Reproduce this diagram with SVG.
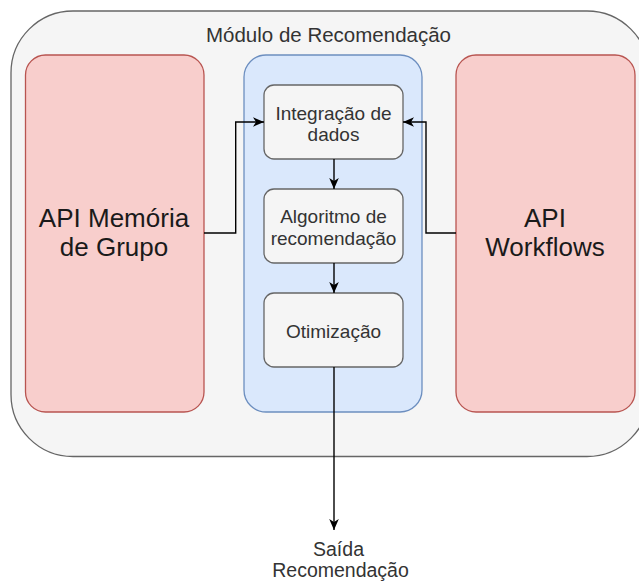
<svg xmlns="http://www.w3.org/2000/svg" width="639" height="584" viewBox="0 0 639 584">
  <defs>
    <marker id="arr" markerUnits="userSpaceOnUse" markerWidth="12" markerHeight="12" viewBox="0 0 12 12" refX="11" refY="6" orient="auto">
      <path d="M0,1.2 L11,6 L0,10.8 L3,6 Z" fill="#000"/>
    </marker>
    <style>
      text { font-family: "Liberation Sans", Arial, Helvetica, sans-serif; text-anchor: middle; }
      .outer { fill: #f5f5f5; stroke: #666666; stroke-width: 1.3; }
      .api { fill: #f8cecc; stroke: #b85450; stroke-width: 1.3; }
      .core { fill: #dae8fc; stroke: #6c8ebf; stroke-width: 1.3; }
      .step { fill: #f5f5f5; stroke: #666666; stroke-width: 1.3; }
      .title { font-size: 20.5px; fill: #333333; }
      .apit { font-size: 26px; fill: #1a1a1a; }
      .stept { font-size: 19px; fill: #333333; }
      .outt { font-size: 19.5px; fill: #333333; }
      .conn { fill: none; stroke: #000; stroke-width: 1.4; }
    </style>
  </defs>

  <g id="modulo-recomendacao">
    <rect class="outer" x="11" y="11" width="638" height="445.5" rx="62" ry="62"/>
    <text class="title" x="328.5" y="42">Módulo de Recomendação</text>
  </g>

  <g id="api-memoria-grupo">
    <rect class="api" x="25.5" y="55" width="178.5" height="357" rx="20" ry="20"/>
    <text class="apit" x="114" y="227">API Memória</text>
    <text class="apit" x="114" y="256">de Grupo</text>
  </g>

  <g id="nucleo">
    <rect class="core" x="244" y="55" width="178" height="357" rx="22" ry="22"/>
  </g>

  <g id="api-workflows">
    <rect class="api" x="456" y="55" width="179" height="357" rx="20" ry="20"/>
    <text class="apit" x="545" y="227">API</text>
    <text class="apit" x="545" y="256">Workflows</text>
  </g>

  <g id="integracao-dados">
    <rect class="step" x="264" y="85" width="139" height="74" rx="10" ry="10"/>
    <text class="stept" x="333.5" y="119.5">Integração de</text>
    <text class="stept" x="333.5" y="140.5">dados</text>
  </g>

  <g id="algoritmo-recomendacao">
    <rect class="step" x="264" y="189" width="139" height="74" rx="10" ry="10"/>
    <text class="stept" x="333.5" y="223">Algoritmo de</text>
    <text class="stept" x="333.5" y="244.5">recomendação</text>
  </g>

  <g id="otimizacao">
    <rect class="step" x="264" y="293" width="139" height="74" rx="10" ry="10"/>
    <text class="stept" x="333.5" y="338">Otimização</text>
  </g>

  <g id="saida-recomendacao">
    <text class="outt" x="338.5" y="555.5">Saída</text>
    <text class="outt" x="340.5" y="577">Recomendação</text>
  </g>

  <g id="connectors">
    <path class="conn" d="M204,233 H235.7 V122 H264" marker-end="url(#arr)"/>
    <path class="conn" d="M456,233 H426 V122 H403" marker-end="url(#arr)"/>
    <path class="conn" d="M334,159 V189" marker-end="url(#arr)"/>
    <path class="conn" d="M334,263 V293" marker-end="url(#arr)"/>
    <path class="conn" d="M334,367 V530" marker-end="url(#arr)"/>
  </g>
</svg>
